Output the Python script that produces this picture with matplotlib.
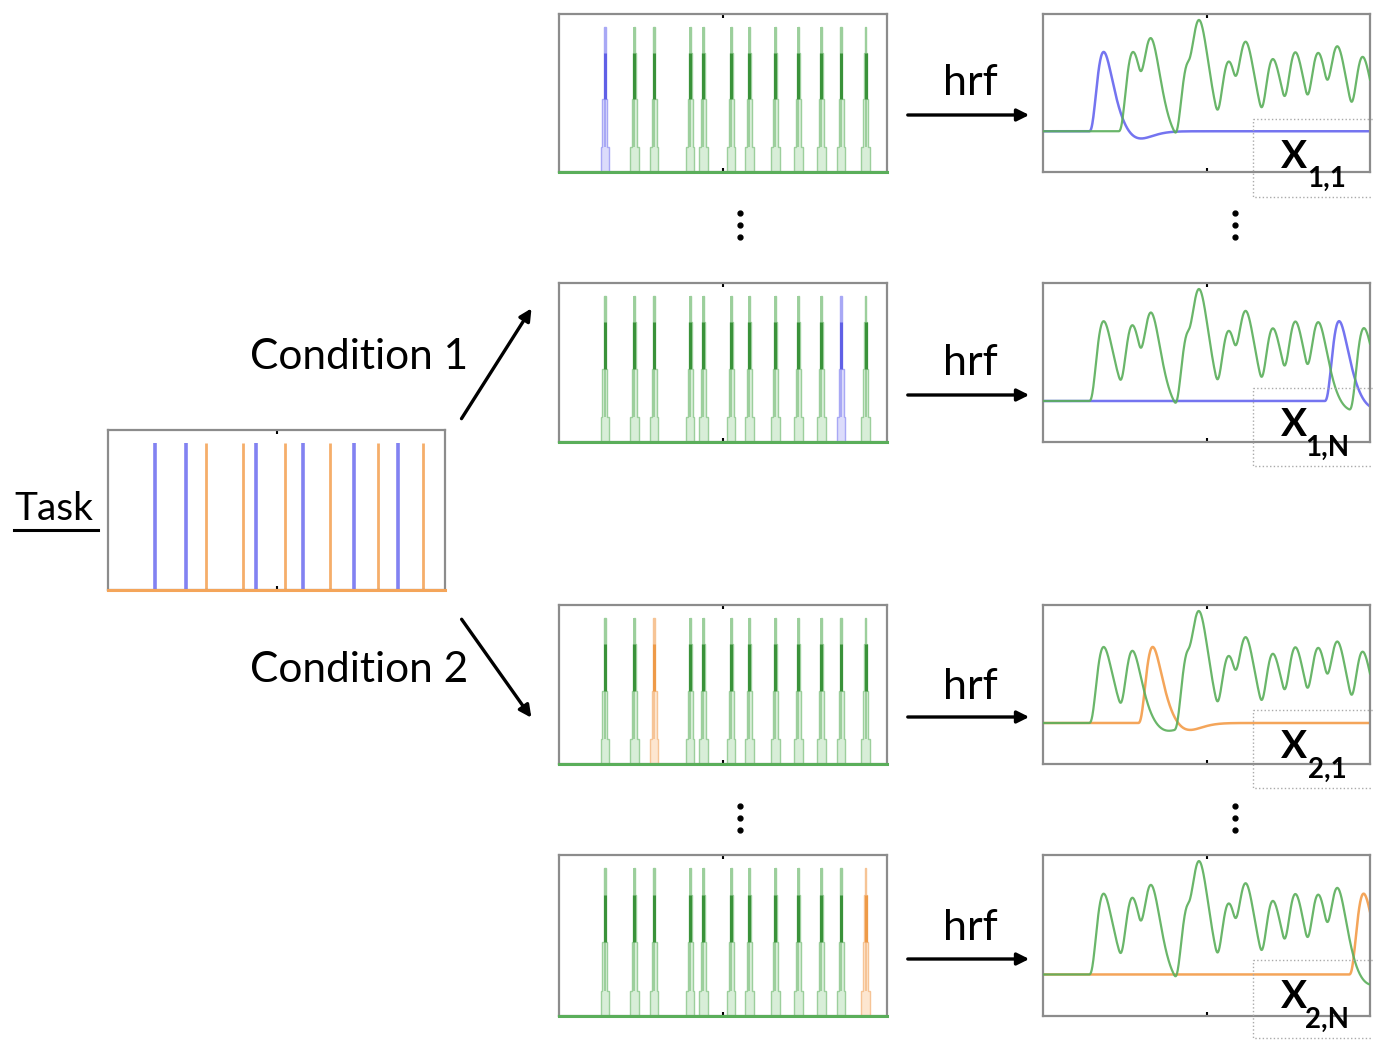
import math
import numpy as np
import matplotlib
matplotlib.use('Agg')
import matplotlib.pyplot as plt
from matplotlib.patches import Rectangle

plt.rcParams['font.family'] = ['Lato', 'DejaVu Sans']

W, H = 1373, 1041

onsets = [14, 23, 29, 40, 44, 52.5, 58, 66, 73, 80, 86, 93.5]
conditions = [1, 1, 2, 2, 1, 2, 1, 2, 1, 2, 1, 2]
t_end = 100

# one row per single-trial regressor: which event is picked out, and its label
row_trials = [0, 10, 2, 11]
row_subs = ['1,1', '1,N', '2,1', '2,N']

BLUE = '#7474f0'
ORANGE = '#f4a55a'
GREEN = '#5aae5a'
FRAME = '#8c8c8c'

COND_COLORS = {1: BLUE, 2: ORANGE}
STICK_LIGHT = {1: '#a8a8f5', 2: '#f6c496', 0: '#9ccf9c'}
STICK_FILL = {1: '#dcdcfb', 2: '#fde6d0', 0: '#d8eed8'}
STICK_DARK = {1: '#6060e6', 2: '#ee9a48', 0: '#3a923a'}

# pixel boxes (x0, y0, x1, y1)
TASK_BOX = (108, 430, 445, 590)
ROW_TOPS = [14, 283, 605, 855]
ROW_BOTS = [172, 442, 764, 1016]
STICK_X = (559, 887)
HRF_X = (1043, 1370)
HRF_TXT_Y = [83, 363, 687, 928]
ARROW_Y = [115, 395, 717, 959]


def px_axes(fig, x0, y0, x1, y1):
    ax = fig.add_axes([x0 / W, 1 - y1 / H, (x1 - x0) / W, (y1 - y0) / H])
    for s in ax.spines.values():
        s.set_color(FRAME)
        s.set_linewidth(1.6)
    ax.set_xlim(0, t_end)
    ax.set_xticks([t_end / 2])
    ax.set_yticks([])
    ax.tick_params(axis='x', direction='in', length=3, width=1.5, top=True,
                   labelbottom=False, color='black')
    return ax


def gamma_pdf(t, a, b):
    return (t / b) ** (a - 1) * np.exp(-t / b) / (b * math.gamma(a))


def hrf(t):
    # double gamma, a little wider than the SPM default
    return gamma_pdf(t, 4.5, 1.3) - gamma_pdf(t, 16.0, 1.0) / 6


def draw_stick(ax, x, key):
    # stepped stick: wide at the base, narrow at the tip
    levels = [(0.0, 0.17, 1.3), (0.17, 0.5, 0.75), (0.5, 0.82, 0.42), (0.82, 1.0, 0.2)]
    xs, ys = [], []
    for lo, hi, hw in levels:
        xs += [x - hw, x - hw]
        ys += [lo, hi]
    for lo, hi, hw in reversed(levels):
        xs += [x + hw, x + hw]
        ys += [hi, lo]
    ax.fill(xs, ys, facecolor=STICK_FILL[key], edgecolor=STICK_LIGHT[key], lw=1.0, zorder=2)
    ax.vlines(x, 0.17, 1.0, color=STICK_LIGHT[key], lw=1.4, zorder=3)
    ax.vlines(x, 0.5, 0.82, color=STICK_DARK[key], lw=2.2, zorder=3)


fig = plt.figure(figsize=(W / 100, H / 100), dpi=100)

# task panel
ax = px_axes(fig, *TASK_BOX)
ax.set_ylim(0, 1.087)
for on, c in zip(onsets, conditions):
    ax.vlines(on, 0, 1, color=COND_COLORS[c], lw=2.6 if c == 1 else 2.0, alpha=0.9)
ax.axhline(0, color=ORANGE, lw=2.2, clip_on=False, zorder=5)

# single-trial hrf kernel and time grid
dt = 0.1
t = np.arange(0, t_end + dt, dt)
kern = hrf(np.arange(0, 32, dt))

for r, trial in enumerate(row_trials):
    cond = conditions[trial]
    y0, y1 = ROW_TOPS[r], ROW_BOTS[r]

    # stick panel
    ax = px_axes(fig, STICK_X[0], y0, STICK_X[1], y1)
    ax.set_ylim(0, 1.087)
    for i, on in enumerate(onsets):
        draw_stick(ax, on, cond if i == trial else 0)
    ax.axhline(0, color=GREEN, lw=2.2, clip_on=False, zorder=5)

    # convolved regressors: the picked trial vs all the others
    sel = np.zeros_like(t)
    rest = np.zeros_like(t)
    for i, on in enumerate(onsets):
        k = int(round(on / dt))
        if i == trial:
            sel[k] = 1
        else:
            rest[k] = 1
    sel_bold = np.convolve(sel, kern)[:len(t)]
    rest_bold = np.convolve(rest, kern)[:len(t)]

    ax = px_axes(fig, HRF_X[0], y0, HRF_X[1], y1)
    ax.plot(t, sel_bold, color=COND_COLORS[cond], lw=1.8, zorder=2)
    ax.plot(t, rest_bold, color=GREEN, lw=1.6, zorder=3, alpha=0.9)
    top = rest_bold.max()
    ax.set_ylim(-41 / 112 * top, 118 / 112 * top)

# overlay for arrows and annotations, in pixel coordinates
ov = fig.add_axes([0, 0, 1, 1])
ov.set_xlim(0, W)
ov.set_ylim(H, 0)
ov.axis('off')
ov.patch.set_alpha(0)

ov.text(14, 509, 'Task', fontsize=28, ha='left', va='center')
ov.plot([14, 98], [530, 530], color='black', lw=2.2)

ov.text(250, 357, 'Condition 1', fontsize=30.5, ha='left', va='center')
ov.text(250, 670, 'Condition 2', fontsize=30.5, ha='left', va='center')
ov.annotate('', xy=(533, 306), xytext=(460, 421),
            arrowprops=dict(arrowstyle='-|>', lw=2.4, color='black', mutation_scale=18))
ov.annotate('', xy=(533, 720), xytext=(460, 617),
            arrowprops=dict(arrowstyle='-|>', lw=2.4, color='black', mutation_scale=18))

for r in range(4):
    ov.text(970, HRF_TXT_Y[r], 'hrf', fontsize=31, ha='center', va='center')
    ov.annotate('', xy=(1032, ARROW_Y[r]), xytext=(905, ARROW_Y[r]),
                arrowprops=dict(arrowstyle='-|>', lw=2.4, color='black', mutation_scale=18))
    top = ROW_TOPS[r]
    ov.add_patch(Rectangle((1253, top + 105), 140, 78, fill=False,
                           edgecolor='#aaaaaa', lw=1.0, ls=':', zorder=6))
    ov.text(1294, top + 142, 'X', fontsize=28, fontweight='bold', ha='center',
            va='center', zorder=7)
    ov.text(1327, top + 165, row_subs[r], fontsize=20, fontweight='bold',
            ha='center', va='center', zorder=7)

for yc in (225, 818):
    for xc in (740, 1235):
        ov.plot([xc] * 3, [yc - 12, yc, yc + 12], 'o', color='black', ms=3.5)

fig.savefig('out.png', dpi=100)
